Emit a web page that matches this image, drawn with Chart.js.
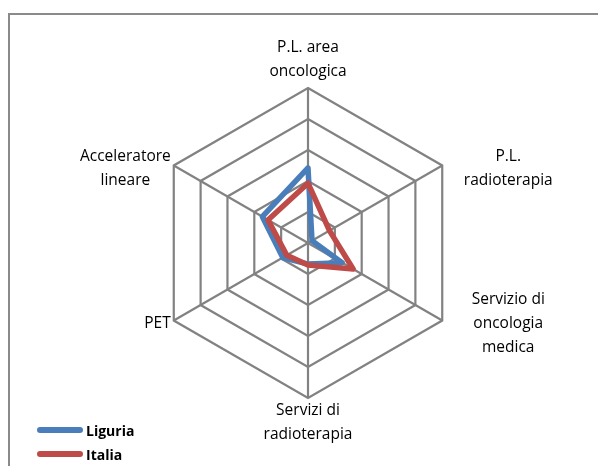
<!DOCTYPE html>
<html>
<head>
<meta charset="utf-8">
<script src="https://cdn.jsdelivr.net/npm/chart.js@4.4.1/dist/chart.umd.min.js"></script>
<style>
  html, body { margin: 0; padding: 0; background: #fff; overflow: hidden; }
  #wrap { position: relative; width: 598px; height: 466px; }
  #frame { position: absolute; left: 8px; top: 13px; width: 640px; height: 500px; border: 2px solid #8a8a8a; box-sizing: border-box; }
  #myChart { position: absolute; left: 0; top: 0; }
  #legend { position: absolute; left: 37px; top: 418px; font-family: "Open Sans", sans-serif; font-weight: bold; font-size: 14px; color: #000; }
  .item { display: flex; align-items: center; height: 24px; }
  .swatch { width: 46px; height: 6px; border-radius: 3px; margin-right: 3px; }
</style>
</head>
<body>
<div id="wrap">
  <div id="frame"></div>
  <canvas id="myChart" width="598" height="466"></canvas>
  <div id="legend"></div>
</div>
<script>
const categories = [
    ['P.L. area', 'oncologica'],
    ['P.L.', 'radioterapia'],
    ['Servizio di', 'oncologia', 'medica'],
    ['Servizi di', 'radioterapia'],
    ['PET'],
    ['Acceleratore', 'lineare']
];
const seriesNames = ['Liguria', 'Italia'];
const liguria = [2.42, 0.15, 1.27, 0.68, 0.94, 1.70];
const italia = [1.93, 0.80, 1.68, 0.71, 0.79, 1.49];
const seriesColors = ['#4a7ebb', '#be4b48'];

// draws the multi-line axis labels the way the original sheet places them
const axisLabels = {
    id: 'axisLabels',
    afterDraw(chart) {
        const s = chart.scales.r;
        const ctx = chart.ctx;
        const lh = 24;
        ctx.save();
        ctx.font = '15.5px "Open Sans", sans-serif';
        ctx.fillStyle = '#000';
        ctx.textAlign = 'center';
        ctx.textBaseline = 'middle';
        categories.forEach(function (lines, i) {
            const p = s.getPointPosition(i, s.drawingArea);
            const w = Math.max(...lines.map(t => ctx.measureText(t).width));
            let cx, y0;
            if (i === 0) {
                cx = p.x; y0 = p.y - 16 - (lines.length - 1) * lh;
            } else if (i === 3) {
                cx = p.x; y0 = p.y + 13;
            } else if (i < 3) {
                cx = p.x + 66; y0 = p.y + 3 - (lines.length - 1) * lh / 2;
            } else {
                cx = p.x - 3 - w / 2; y0 = p.y + 3 - (lines.length - 1) * lh / 2;
            }
            lines.forEach(function (t, k) {
                ctx.fillText(t, cx, y0 + k * lh);
            });
        });
        ctx.restore();
    }
};

document.addEventListener("DOMContentLoaded", function () {
    const ctx = document.getElementById('myChart').getContext('2d');
    new Chart(ctx, {
        type: 'radar',
        data: {
            labels: categories,
            datasets: [{
                label: seriesNames[0],
                data: liguria,
                borderColor: seriesColors[0],
                backgroundColor: 'transparent',
                borderWidth: 5.5,
                pointRadius: 0,
                fill: false,
                order: 1
            }, {
                label: seriesNames[1],
                data: italia,
                borderColor: seriesColors[1],
                backgroundColor: 'transparent',
                borderWidth: 5.5,
                pointRadius: 0,
                fill: false,
                order: 0
            }]
        },
        options: {
            responsive: false,
            animation: false,
            layout: { padding: { left: 153, right: 135, top: 88, bottom: 68 } },
            elements: { line: { tension: 0, borderJoinStyle: 'round' } },
            plugins: { legend: { display: false }, tooltip: { enabled: false } },
            scales: {
                r: {
                    min: 0,
                    max: 5,
                    ticks: { display: false, stepSize: 1 },
                    pointLabels: { display: false },
                    grid: { color: '#828282', lineWidth: 2.2 },
                    angleLines: { color: '#828282', lineWidth: 2.2 }
                }
            }
        },
        plugins: [axisLabels]
    });

    const legend = document.getElementById('legend');
    seriesNames.forEach(function (name, i) {
        const row = document.createElement('div');
        row.className = 'item';
        row.innerHTML = '<span class="swatch" style="background:' + seriesColors[i] + '"></span>' + name;
        legend.appendChild(row);
    });
});
</script>
</body>
</html>
